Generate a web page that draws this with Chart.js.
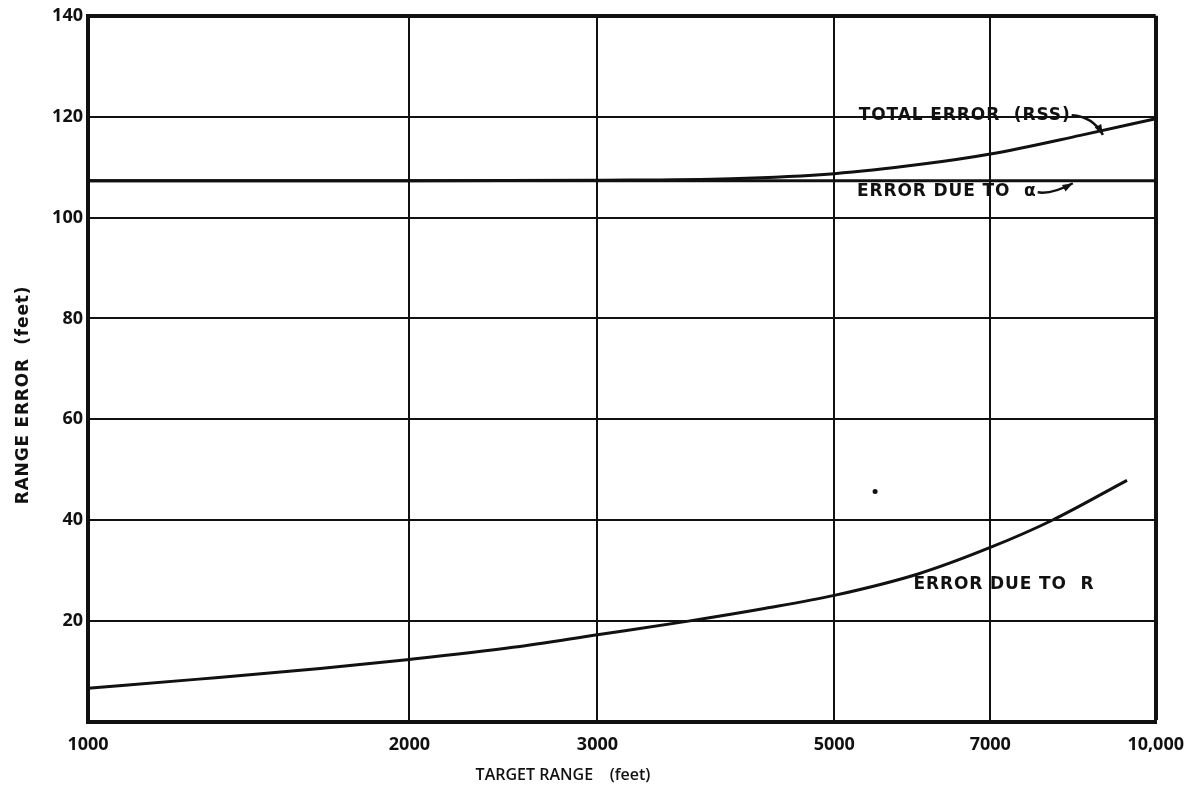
<!DOCTYPE html>
<html>
<head>
<meta charset="utf-8">
<script src="https://cdn.jsdelivr.net/npm/chart.js@4.4.1/dist/chart.umd.min.js"></script>
<style>
  html, body { margin:0; padding:0; background:#fff; }
  #wrap { width:1196px; height:791px; }
</style>
</head>
<body>
<div id="wrap"><canvas id="rangeChart" width="1196" height="791"></canvas></div>
<script>
// ticks
var xTicks = [1000, 2000, 3000, 5000, 7000, 10000];
var yTicks = [20, 40, 60, 80, 100, 120, 140];

// error due to R
var rangeR = [1000, 1270, 1650, 2000, 2500, 3000, 3650, 4300, 5000, 6000, 7000, 8000, 9400];
var errorR = [6.7, 8.5, 10.6, 12.4, 14.8, 17.3, 20.0, 22.5, 25.1, 29.4, 34.6, 40.0, 47.9];

// error due to alpha (flat)
var rangeAlpha = [1000, 10000];
var errorAlpha = [107.3, 107.3];

// total error (RSS)
var rangeTotal = [1000, 2000, 3000, 4000, 5000, 6000, 7000, 8500, 10000];
var errorTotal = [107.3, 107.3, 107.4, 107.7, 108.7, 110.5, 112.6, 116.3, 119.6];

// the lone dot on the sheet
var dotRange = [5460];
var dotError = [45.7];

function pts(xs, ys) {
    var out = [];
    for (var i = 0; i < xs.length; i++) out.push({x: xs[i], y: ys[i]});
    return out;
}

var labelFont = '"Open Sans", "DejaVu Sans", sans-serif';
var noteFont = '"DejaVu Sans", sans-serif';

// text labels + leader arrows drawn on top of the plot
var notesPlugin = {
    id: 'notes',
    afterDatasetsDraw: function(chart) {
        var c = chart.ctx, xs = chart.scales.x, ys = chart.scales.y;
        function px(v) { return xs.getPixelForValue(v); }
        function py(v) { return ys.getPixelForValue(v); }
        c.save();
        c.fillStyle = '#111';
        c.strokeStyle = '#111';
        c.textBaseline = 'middle';
        c.textAlign = 'left';
        c.font = 'bold 17px ' + noteFont;
        c.letterSpacing = '0.9px';

        var t1 = 'TOTAL ERROR  (RSS)', t1x = px(5270), t1y = py(120.3);
        var t2 = 'ERROR DUE TO  α', t2x = px(5250), t2y = py(105.2);
        c.fillText(t1, t1x, t1y);
        c.fillText(t2, t2x, t2y);
        c.fillText('ERROR DUE TO  R', px(5930), py(27.2));
        var e1 = t1x + c.measureText(t1).width;
        var e2 = t2x + c.measureText(t2).width;
        c.letterSpacing = '0px';

        function leader(x0, y0, cx, cy, x1, y1) {
            c.beginPath();
            c.lineWidth = 2.5;
            c.moveTo(x0, y0);
            c.quadraticCurveTo(cx, cy, x1, y1);
            c.stroke();
            var a = Math.atan2(y1 - cy, x1 - cx);
            c.beginPath();
            c.moveTo(x1, y1);
            c.lineTo(x1 - 11 * Math.cos(a - 0.35), y1 - 11 * Math.sin(a - 0.35));
            c.lineTo(x1 - 11 * Math.cos(a + 0.35), y1 - 11 * Math.sin(a + 0.35));
            c.closePath();
            c.fill();
        }
        leader(e1 + 1, t1y, e1 + 22, t1y + 1, px(8924), py(116.4));
        leader(e2 + 1, t2y + 1, e2 + 16, t2y + 3, px(8363), py(106.8));

        // axis titles
        c.font = '600 16px ' + labelFont;
        c.textAlign = 'center';
        c.fillText('TARGET RANGE    (feet)', 563, 775);
        c.translate(24, 395);
        c.rotate(-Math.PI / 2);
        c.font = 'bold 17px ' + noteFont;
        c.letterSpacing = '0.8px';
        c.fillText('RANGE ERROR  (feet)', 0, 0);
        c.restore();
    }
};

var ctx = document.getElementById('rangeChart').getContext('2d');
var myChart = new Chart(ctx, {
    type: 'scatter',
    data: {
        datasets: [{
            label: 'Error due to R',
            data: pts(rangeR, errorR),
            showLine: true,
            cubicInterpolationMode: 'monotone',
            borderColor: '#111',
            borderWidth: 3,
            pointRadius: 0
        },
        {
            label: 'Error due to alpha',
            data: pts(rangeAlpha, errorAlpha),
            showLine: true,
            borderColor: '#111',
            borderWidth: 3,
            pointRadius: 0
        },
        {
            label: 'Total error (RSS)',
            data: pts(rangeTotal, errorTotal),
            showLine: true,
            cubicInterpolationMode: 'monotone',
            borderColor: '#111',
            borderWidth: 3,
            pointRadius: 0
        },
        {
            label: 'dot',
            data: pts(dotRange, dotError),
            showLine: false,
            pointRadius: 2.5,
            pointBackgroundColor: '#111',
            pointBorderWidth: 0
        }]
    },
    options: {
        responsive: false,
        animation: false,
        layout: { padding: { top: 14, right: 38, left: 0, bottom: 0 } },
        plugins: {
            legend: { display: false },
            tooltip: { enabled: false }
        },
        scales: {
            x: {
                type: 'logarithmic',
                min: 1000,
                max: 10000,
                afterBuildTicks: function(scale) {
                    scale.ticks = xTicks.map(function(v) { return {value: v}; });
                },
                afterFit: function(scale) { scale.height = 69; },
                ticks: {
                    autoSkip: false,
                    maxRotation: 0,
                    padding: 12,
                    color: '#111',
                    font: { family: labelFont, size: 18, weight: '700' },
                    callback: function(v) { return v === 10000 ? '10,000' : String(v); }
                },
                grid: {
                    color: '#111',
                    drawTicks: false,
                    lineWidth: function(c) { return c.tick && c.tick.value === 10000 ? 4 : 2; }
                },
                border: { display: true, color: '#111', width: 4 }
            },
            y: {
                min: 0,
                max: 140,
                afterBuildTicks: function(scale) {
                    scale.ticks = [{value: 0}].concat(yTicks.map(function(v) { return {value: v}; }));
                },
                afterFit: function(scale) { scale.width = 88; },
                ticks: {
                    padding: 5,
                    color: '#111',
                    font: { family: labelFont, size: 18, weight: '700' },
                    callback: function(v) { return v === 0 ? '' : String(v); }
                },
                grid: {
                    color: '#111',
                    drawTicks: false,
                    lineWidth: function(c) { return c.tick && c.tick.value === 140 ? 4 : 2; }
                },
                border: { display: true, color: '#111', width: 4 }
            }
        }
    },
    plugins: [notesPlugin]
});
</script>
</body>
</html>
